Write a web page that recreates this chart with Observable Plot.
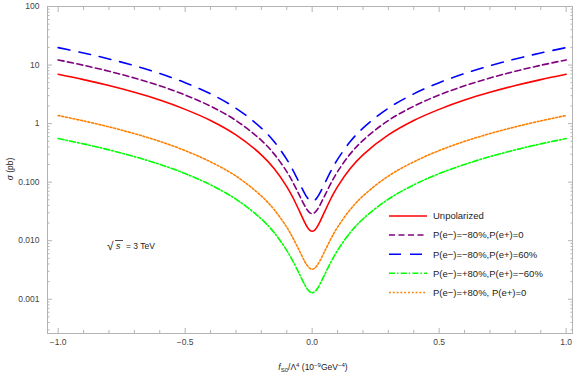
<!DOCTYPE html>
<html><head><meta charset="utf-8">
<script src="https://cdn.jsdelivr.net/npm/d3@7"></script>
<script src="https://cdn.jsdelivr.net/npm/@observablehq/plot@0.6"></script>
<style>body{margin:0;background:#fff} #chart{width:582px;height:374px}</style>
</head><body><div id="chart"></div>
<script>
const fS0 = [-1.0,-0.9,-0.8,-0.7,-0.6,-0.5,-0.4,-0.3,-0.2,-0.15,-0.1,-0.075,-0.05,-0.03,-0.02,-0.01,0,0.01,0.02,0.03,0.05,0.075,0.1,0.15,0.2,0.3,0.4,0.5,0.6,0.7,0.8,0.9,1.0];
const unpolarized = [6.96,5.64,4.46,3.42,2.52,1.75,1.13,0.64,0.293,0.171,0.084,0.0536,0.0319,0.0208,0.0173,0.0152,0.0145,0.0152,0.0173,0.0208,0.0319,0.0536,0.084,0.171,0.293,0.64,1.13,1.75,2.52,3.42,4.46,5.64,6.96];
const em80_ep0 = [12.23,9.91,7.84,6.01,4.42,3.08,1.98,1.13,0.517,0.304,0.151,0.0976,0.0595,0.040,0.0339,0.0302,0.029,0.0302,0.0339,0.040,0.0595,0.0976,0.151,0.304,0.517,1.13,1.98,3.08,4.42,6.01,7.84,9.91,12.23];
const em80_ep60 = [19.85,16.09,12.72,9.75,7.18,5.00,3.22,1.83,0.839,0.493,0.245,0.158,0.0965,0.0648,0.0549,0.049,0.047,0.049,0.0549,0.0648,0.0965,0.158,0.245,0.493,0.839,1.83,3.22,5.00,7.18,9.75,12.72,16.09,19.85];
const ep80_epm60 = [0.555,0.450,0.356,0.273,0.201,0.140,0.0899,0.0512,0.0235,0.0138,0.00683,0.0044,0.00268,0.00179,0.00151,0.00135,0.00129,0.00135,0.00151,0.00179,0.00268,0.0044,0.00683,0.0138,0.0235,0.0512,0.0899,0.140,0.201,0.273,0.356,0.450,0.555];
const ep80_ep0 = [1.373,1.113,0.880,0.675,0.497,0.346,0.222,0.127,0.0581,0.0341,0.017,0.011,0.00669,0.00449,0.00381,0.0034,0.00326,0.0034,0.00381,0.00449,0.00669,0.011,0.017,0.0341,0.0581,0.127,0.222,0.346,0.497,0.675,0.880,1.113,1.373];

const seriesNames = ["Unpolarized","P(e−)=−80%,P(e+)=0","P(e−)=−80%,P(e+)=60%","P(e−)=+80%,P(e+)=−60%","P(e−)=+80%, P(e+)=0"];
const seriesValues = [unpolarized, em80_ep0, em80_ep60, ep80_epm60, ep80_ep0];
const seriesColors = ["#ff0000","#800080","#0000ff","#00ff00","#ff8000"];
const seriesDash = [null,"6,3.5","12,9","6,2,1.5,2.2","1.9,1.9"];

const xMajorTicks = [-1,-0.5,0,0.5,1];
const xTickLabels = ["−1.0","−0.5","0.0","0.5","1.0"];
const xMinorTicks = [-0.9,-0.8,-0.7,-0.6,-0.4,-0.3,-0.2,-0.1,0.1,0.2,0.3,0.4,0.6,0.7,0.8,0.9];
const yMajorTicks = [100,10,1,0.1,0.01,0.001];
const yTickLabels = ["100","10","1","0.100","0.010","0.001"];
const yMinorTicks = [];
for (const dec of [0.0001,0.001,0.01,0.1,1,10]) for (let m = 2; m <= 9; m++) { const v = +(m*dec).toPrecision(3); if (v > 0.00026 && v < 100) yMinorTicks.push(v); }

const frameColor = "#b4b4b4";
const labelColor = "#444";

const lineMarks = seriesValues.map((vals, i) => Plot.line(fS0.map((x, j) => ({x, y: vals[j]})), {
  x: "x", y: "y", stroke: seriesColors[i], strokeWidth: 1.6,
  strokeDasharray: seriesDash[i], curve: "catmull-rom"
}));

const xLab = (d) => xTickLabels[xMajorTicks.indexOf(d)];
const yLab = (d) => yTickLabels[yMajorTicks.indexOf(d)];
const none = () => "";

const svg = Plot.plot({
  width: 582, height: 374,
  marginLeft: 47, marginRight: 10, marginTop: 6, marginBottom: 41,
  style: {fontFamily: "Liberation Sans, Arial, sans-serif", fontSize: "8.5px", color: labelColor, background: "#fff"},
  x: {domain: [-1.042, 1.025]},
  y: {type: "log", domain: [0.00026, 100]},
  marks: [
    Plot.frame({stroke: frameColor, strokeWidth: 1}),
    Plot.axisX(xMajorTicks, {anchor: "bottom", tickSize: 0, tickPadding: 5, tickFormat: xLab, fill: labelColor, label: null}),
    Plot.axisX(xMajorTicks, {anchor: "bottom", tickSize: -5, tickFormat: none, stroke: frameColor, label: null}),
    Plot.axisX(xMinorTicks, {anchor: "bottom", tickSize: -3, tickFormat: none, stroke: frameColor, label: null}),
    Plot.axisX(xMajorTicks, {anchor: "top", tickSize: -5, tickFormat: none, stroke: frameColor, label: null}),
    Plot.axisX(xMinorTicks, {anchor: "top", tickSize: -3, tickFormat: none, stroke: frameColor, label: null}),
    Plot.axisY(yMajorTicks, {anchor: "left", tickSize: 0, tickPadding: 8, tickFormat: yLab, fill: labelColor, label: null}),
    Plot.axisY(yMajorTicks, {anchor: "left", tickSize: -5, tickFormat: none, stroke: frameColor, label: null}),
    Plot.axisY(yMinorTicks, {anchor: "left", tickSize: -2.5, tickFormat: none, stroke: frameColor, label: null}),
    Plot.axisY(yMajorTicks, {anchor: "right", tickSize: -5, tickFormat: none, stroke: frameColor, label: null}),
    Plot.axisY(yMinorTicks, {anchor: "right", tickSize: -2.5, tickFormat: none, stroke: frameColor, label: null}),
    ...lineMarks
  ]
});
document.getElementById("chart").appendChild(svg);

const g = d3.select(svg).append("g").attr("font-family", "Liberation Sans, Arial, sans-serif").attr("fill", "#222").attr("text-anchor", "start");
// axis titles
const yt = g.append("text").attr("transform", "translate(13,169) rotate(-90)").attr("text-anchor", "middle").attr("font-size", 8.5);
yt.append("tspan").attr("font-style", "italic").text("σ");
yt.append("tspan").text(" (pb)");
const xt = g.append("text").attr("x", 313).attr("y", 370).attr("text-anchor", "middle").attr("font-size", 8.5);
xt.append("tspan").attr("font-style", "italic").text("f");
xt.append("tspan").attr("font-size", 6).attr("dy", 2).text("S0");
xt.append("tspan").attr("dy", -2).text("/Λ");
xt.append("tspan").attr("font-size", 6).attr("dy", -3).text("4");
xt.append("tspan").attr("dy", 3).text(" (10");
xt.append("tspan").attr("font-size", 6).attr("dy", -3).text("−9");
xt.append("tspan").attr("dy", 3).text("GeV");
xt.append("tspan").attr("font-size", 6).attr("dy", -3).text("−4");
xt.append("tspan").attr("dy", 3).text(")");

// sqrt(s) annotation
g.append("text").attr("x", 107).attr("y", 250).attr("font-size", 12).text("√");
g.append("line").attr("x1", 115).attr("x2", 123).attr("y1", 240.5).attr("y2", 240.5).attr("stroke", "#222").attr("stroke-width", 0.8);
g.append("text").attr("x", 116).attr("y", 249).attr("font-size", 9).attr("font-style", "italic").text("s");
g.append("text").attr("x", 126).attr("y", 249).attr("font-size", 8.5).text("= 3 TeV");

// legend
const legendRows = [216, 235, 254.3, 273.3, 292.5];
seriesNames.forEach((name, i) => {
  const y = legendRows[i];
  g.append("line").attr("x1", 389).attr("x2", 427).attr("y1", y).attr("y2", y)
    .attr("stroke", seriesColors[i]).attr("stroke-width", 1.6)
    .attr("stroke-dasharray", seriesDash[i]);
  g.append("text").attr("x", 433).attr("y", y + 3.3).attr("font-size", 9.5).text(name);
});
</script>
</body></html>
